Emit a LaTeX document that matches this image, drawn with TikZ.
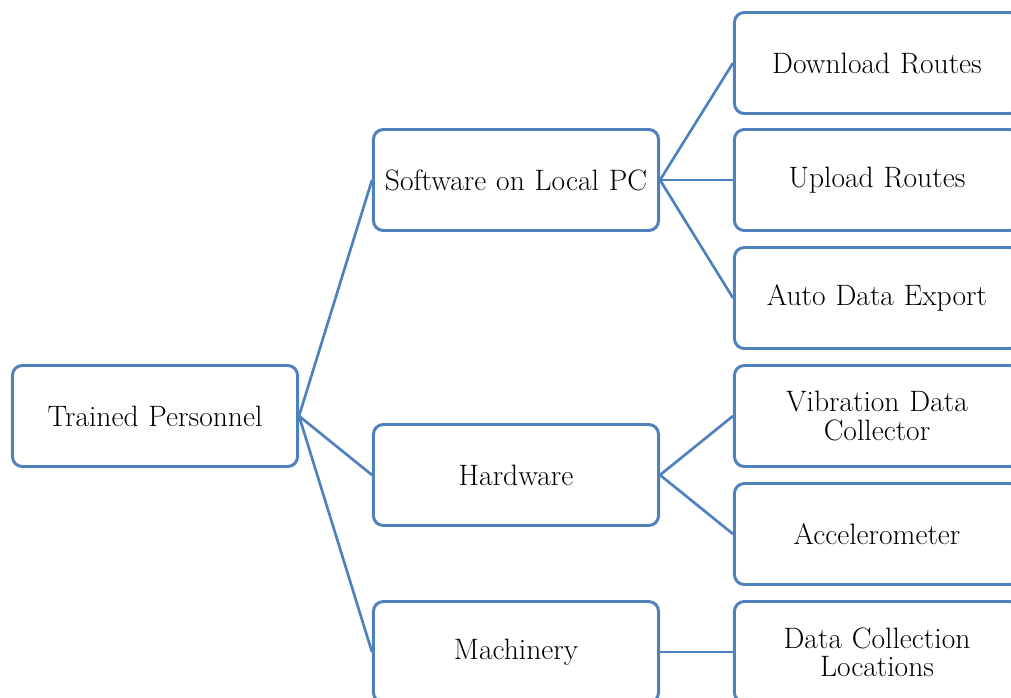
\documentclass[tikz,border=0pt]{standalone}
\usepackage{xcolor}
\usepackage{tikz}
\definecolor{boxblue}{HTML}{4F81BD}

\begin{document}
\begin{tikzpicture}
  [x=0.025cm,y=-0.025cm,every node/.style={rectangle,draw=boxblue,line width=2.1pt,rounded corners=7pt,fill=white,text centered,text width=6.8cm,minimum width=7.125cm,minimum height=2.525cm,font=\fontsize{21}{20}\selectfont}]
\tikzset{%
link/.style={draw=boxblue,line width=1.9pt}
}
  \useasboundingbox (0,0) rectangle (1011,697);
  \clip (0,0) rectangle (1011,697);
  \node (0) at (155,416) {Trained Personnel};
  \node (1) at (516,180) {Software on Local PC};
  \node (2) at (516,475) {Hardware};
  \node (3) at (516,652) {Machinery};
  \node (11) at (877,63) {Download Routes};
  \node (12) at (877,180) {Upload Routes};
  \node (13) at (877,298) {Auto Data Export};
  \node (21) at (877,416) {Vibration Data\\Collector};
  \node (22) at (877,534) {Accelerometer};
  \node (31) at (877,652) {Data Collection\\Locations};
  \draw[link] (0.east) -- (1.west);
  \draw[link] (0.east) -- (2.west);
  \draw[link] (0.east) -- (3.west);
  \draw[link] (1.east) -- (11.west);
  \draw[link] (1.east) -- (12.west);
  \draw[link] (1.east) -- (13.west);
  \draw[link] (2.east) -- (21.west);
  \draw[link] (2.east) -- (22.west);
  \draw[link] (3.east) -- (31.west);
\end{tikzpicture}
\end{document}
